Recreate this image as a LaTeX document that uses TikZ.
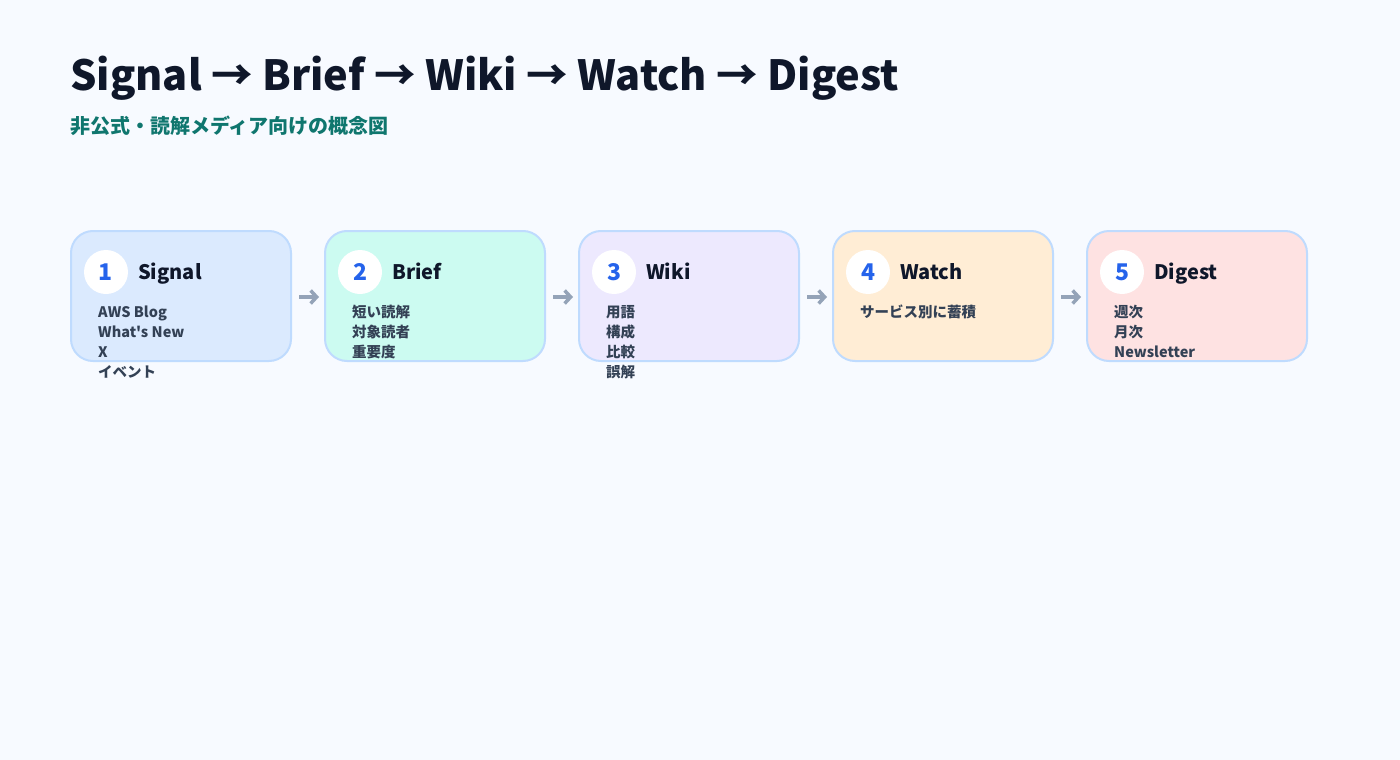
\documentclass[tikz,border=0pt]{standalone}
\usepackage{fontspec}
\setmainfont{Noto Sans CJK JP}[Ligatures=TeXOff]
\usetikzlibrary{arrows.meta}
\definecolor{bg}{HTML}{F7FAFF}
\definecolor{ink}{HTML}{0F172A}
\definecolor{sub}{HTML}{0F766E}
\definecolor{body}{HTML}{334155}
\definecolor{num}{HTML}{2563EB}
\definecolor{edge}{HTML}{BFDBFE}
\definecolor{arr}{HTML}{94A3B8}
\definecolor{fA}{HTML}{DBEAFE}
\definecolor{fB}{HTML}{CCFBF1}
\definecolor{fC}{HTML}{EDE9FE}
\definecolor{fD}{HTML}{FFEDD5}
\definecolor{fE}{HTML}{FEE2E2}
\tikzset{
  stagebox/.style={draw=edge, line width=2pt, rounded corners=22pt, minimum width=220pt, minimum height=130pt, inner sep=0pt, anchor=north west},
  numdisc/.style={circle, fill=white, minimum size=44pt, inner sep=0pt, text=num, font=\fontsize{23}{26}\selectfont\bfseries},
  stagetitle/.style={anchor=base west, inner sep=0pt, text=ink, font=\fontsize{20}{24}\selectfont\bfseries},
  itemtext/.style={anchor=base west, inner sep=0pt, text=body, font=\fontsize{14.5}{18}\selectfont\bfseries},
  flowarrow/.style={draw=arr, line width=3.5pt, -{Straight Barb[length=6pt, width=13pt, line width=3.5pt]}, shorten <=7pt, shorten >=5pt}
}
\begin{document}
\begin{tikzpicture}[x=1pt, y=-1pt]
\useasboundingbox[fill=bg] (0,0) rectangle (1400,760);
\node[anchor=base west, inner sep=0pt, text=ink, font=\fontsize{41.5}{48}\selectfont\bfseries] (title) at (70,91) {Signal → Brief → Wiki → Watch → Digest};
\node[anchor=base west, inner sep=0pt, text=sub, font=\fontsize{20}{24}\selectfont\bfseries] (subtitle) at (70,133) {非公式・読解メディア向けの概念図};

\foreach \i/\x/\f/\t in {1/70/fA/Signal, 2/324/fB/Brief, 3/578/fC/Wiki, 4/832/fD/Watch, 5/1086/fE/Digest}{
  \node[stagebox, fill=\f] (box\i) at (\x,230) {};
  \node[numdisc] (n\i) at (\x+36,272) {\i};
  \node[stagetitle] (t\i) at (\x+68,279) {\t};
}
\node[itemtext] (a1) at (98,317) {AWS Blog};
\node[itemtext] (a2) at (98,337) {What's New};
\node[itemtext] (a3) at (98,357) {X};
\node[itemtext] (a4) at (98,377) {イベント};
\node[itemtext] (b1) at (352,317) {短い読解};
\node[itemtext] (b2) at (352,337) {対象読者};
\node[itemtext] (b3) at (352,357) {重要度};
\node[itemtext] (c1) at (606,317) {用語};
\node[itemtext] (c2) at (606,337) {構成};
\node[itemtext] (c3) at (606,357) {比較};
\node[itemtext] (c4) at (606,377) {誤解};
\node[itemtext] (d1) at (860,317) {サービス別に蓄積};
\node[itemtext] (e1) at (1114,317) {週次};
\node[itemtext] (e2) at (1114,337) {月次};
\node[itemtext] (e3) at (1114,357) {Newsletter};

\foreach \a/\b in {1/2,2/3,3/4,4/5}{
  \draw[flowarrow] ([yshift=-1pt]box\a.east) -- ([yshift=-1pt]box\b.west);
}
\end{tikzpicture}
\end{document}
